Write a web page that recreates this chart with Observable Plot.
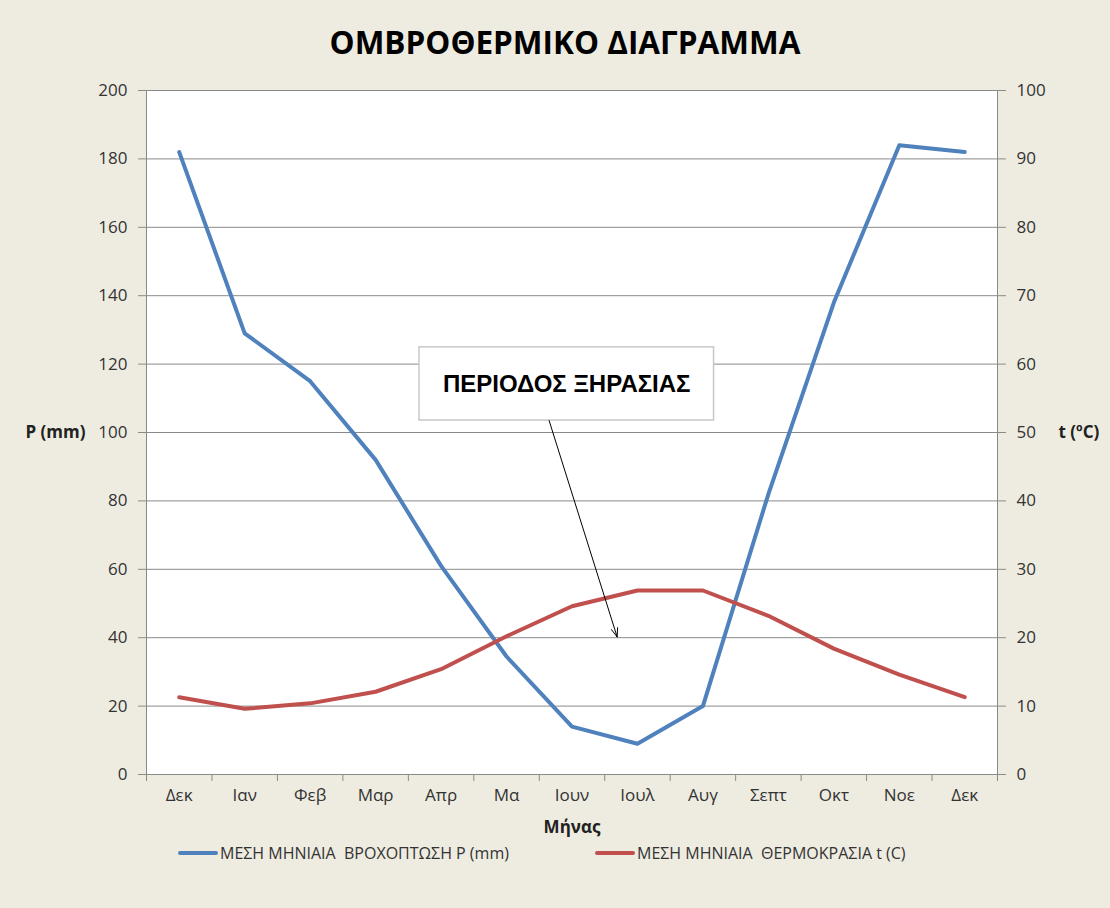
<!DOCTYPE html>
<html>
<head>
<meta charset="utf-8">
<script src="https://cdn.jsdelivr.net/npm/d3@7"></script>
<script src="https://cdn.jsdelivr.net/npm/@observablehq/plot@0.6"></script>
<style>
  html, body { margin: 0; padding: 0; background: #eeece1; }
  #wrap { position: relative; width: 1110px; height: 908px; overflow: hidden; background: #eeece1; font-family: "Open Sans", sans-serif; }
  #title { position: absolute; left: 10px; top: 0; width: 1110px; height: 70px; text-align: center; font-weight: 700; font-size: 31.5px; line-height: 84px; color: #000; }
  #chart { position: absolute; left: 0; top: 70px; }
  .leg { position: absolute; top: 841px; height: 24px; display: flex; align-items: center; font-size: 16px; color: #333; white-space: pre; }
  .leg .sw { width: 40px; height: 4px; border-radius: 2px; margin-right: 2px; }
</style>
</head>
<body>
<div id="wrap">
  <div id="title">ΟΜΒΡΟΘΕΡΜΙΚΟ ΔΙΑΓΡΑΜΜΑ</div>
  <div id="chart"></div>
  <div class="leg" style="left:178px"><span class="sw" style="background:#4f81bd"></span><span>ΜΕΣΗ ΜΗΝΙΑΙΑ  ΒΡΟΧΟΠΤΩΣΗ P (mm)</span></div>
  <div class="leg" style="left:595px"><span class="sw" style="background:#c0504d"></span><span>ΜΕΣΗ ΜΗΝΙΑΙΑ  ΘΕΡΜΟΚΡΑΣΙΑ t (C)</span></div>
</div>
<script>
// ---- data ----
const months = ["Δεκ","Ιαν","Φεβ","Μαρ","Απρ","Μα","Ιουν","Ιουλ","Αυγ","Σεπτ","Οκτ","Νοε","Δεκ"];
const rainfall = [182, 129, 115, 92, 61, 34.5, 14, 9, 20, 82, 138, 184, 182];        // P (mm), left axis
const temperature = [11.3, 9.6, 10.4, 12.1, 15.4, 20.2, 24.6, 26.9, 26.9, 23.2, 18.4, 14.6, 11.3]; // t (°C), right axis
const leftTicks = [0, 20, 40, 60, 80, 100, 120, 140, 160, 180, 200];
const rightTicks = [0, 10, 20, 30, 40, 50, 60, 70, 80, 90, 100];
const leftLabel = "P (mm)";
const rightLabel = "t (ºC)";
const xLabel = "Μήνας";
// annotation (in data units: month index, P units)
const noteText = ["ΠΕΡΙΟΔΟΣ ΞΗΡΑΣΙΑΣ"];
const noteBox = [{x1: 3.67, x2: 8.17, y1: 103.5, y2: 124.9}];
const noteTextPos = [{x: 5.92, y: 114.2}];
const noteArrow = [{x1: 5.65, y1: 103.5, x2: 6.69, y2: 40.2}];

const ratio = 200 / 100; // right axis (0–100) mapped onto left axis (0–200)
const table = months.map((m, i) => ({i, m, P: rainfall[i], t: temperature[i]}));
const idx = d3.range(months.length);
const bounds = d3.range(months.length + 1).map(i => i - 0.5);

const gridColor = "#8a8a8a";
const chart = Plot.plot({
  width: 1110,
  height: 780,
  marginLeft: 146,
  marginRight: 113,
  marginTop: 20,
  marginBottom: 76,
  style: {background: "transparent", fontFamily: "'Open Sans', sans-serif", fontSize: "17px", color: "#333"},
  x: {type: "linear", domain: [-0.5, months.length - 0.5]},
  y: {domain: [0, 200]},
  marks: [
    Plot.frame({fill: "white", stroke: null}),
    Plot.gridY(leftTicks, {stroke: gridColor, strokeOpacity: 1}),
    Plot.ruleX([-0.5, months.length - 0.5], {stroke: gridColor}),
    Plot.ruleY([0], {stroke: gridColor}),
    Plot.axisY(leftTicks, {anchor: "left", tickSize: 8, tickPadding: 11, label: null, stroke: gridColor, fill: "#333"}),
    Plot.axisY(leftTicks, {anchor: "right", tickSize: 8, tickPadding: 11, label: null, stroke: gridColor, fill: "#333", tickFormat: d => d / ratio}),
    Plot.axisX(bounds, {anchor: "bottom", tickSize: 7, tickFormat: () => "", label: null, stroke: gridColor}),
    Plot.axisX(idx, {anchor: "bottom", tickSize: 0, tickPadding: 14, label: null, fill: "#333", tickFormat: i => months[i]}),
    Plot.text([leftLabel], {text: d => d, frameAnchor: "left", dx: -61, textAnchor: "end", fontWeight: "bold", fill: "#222"}),
    Plot.text([rightLabel], {text: d => d, frameAnchor: "right", dx: 61, textAnchor: "start", fontWeight: "bold", fill: "#222"}),
    Plot.text([xLabel], {text: d => d, frameAnchor: "bottom", dy: 58, fontWeight: "bold", fill: "#222"}),
    Plot.line(table, {x: "i", y: "P", stroke: "#4f81bd", strokeWidth: 4, strokeLinejoin: "round", strokeLinecap: "round"}),
    Plot.line(table, {x: "i", y: d => d.t * ratio, stroke: "#c0504d", strokeWidth: 4, strokeLinejoin: "round", strokeLinecap: "round"}),
    Plot.rect(noteBox, {x1: "x1", x2: "x2", y1: "y1", y2: "y2", fill: "white", stroke: "#c8c8c8", strokeWidth: 1.5}),
    Plot.text(noteTextPos, {x: "x", y: "y", text: () => noteText[0], fontFamily: "'Liberation Sans', Arial, sans-serif", fontWeight: "bold", fontSize: 24, fill: "#000"}),
    Plot.arrow(noteArrow, {x1: "x1", y1: "y1", x2: "x2", y2: "y2", stroke: "#000", strokeWidth: 1, headLength: 14, headAngle: 40})
  ]
});
document.getElementById("chart").appendChild(chart);
</script>
</body>
</html>
